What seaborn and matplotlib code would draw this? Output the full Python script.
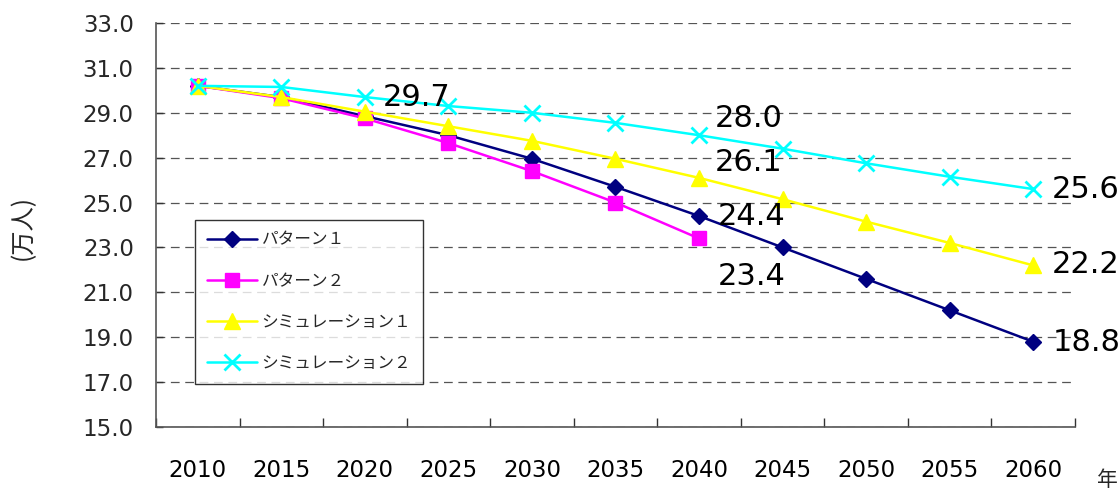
import numpy as np
import pandas as pd
import matplotlib
matplotlib.use("Agg")
import matplotlib.pyplot as plt
import seaborn as sns
from matplotlib.ticker import FixedLocator, FormatStrFormatter

# ---- data ----
years = [2010, 2015, 2020, 2025, 2030, 2035, 2040, 2045, 2050, 2055, 2060]
pattern1 = [30.2, 29.7, 28.85, 28.0, 26.95, 25.7, 24.4, 23.0, 21.6, 20.2, 18.8]
pattern2 = [30.2, 29.65, 28.75, 27.65, 26.4, 25.0, 23.4, np.nan, np.nan, np.nan, np.nan]
simulation1 = [30.2, 29.7, 29.05, 28.4, 27.75, 26.95, 26.1, 25.15, 24.15, 23.2, 22.2]
simulation2 = [30.2, 30.15, 29.7, 29.3, 29.0, 28.55, 28.0, 27.4, 26.75, 26.15, 25.6]
series_names = ["パターン１", "パターン２", "シミュレーション１", "シミュレーション２"]
y_ticks = [15.0, 17.0, 19.0, 21.0, 23.0, 25.0, 27.0, 29.0, 31.0, 33.0]
y_label = "(万人)"
x_unit = "年"

sns.set_theme(style="white")
plt.rcParams["font.family"] = ["DejaVu Sans", "Noto Sans CJK JP"]

fig = plt.figure(figsize=(11.19, 4.93), dpi=100)
ax = fig.add_axes([156 / 1119, 1 - 427 / 493, (1075 - 156) / 1119, (427 - 23) / 493])

styles = [
    dict(color="#000080", marker="D", markersize=8.5, mew=1),
    dict(color="#FF00FF", marker="s", markersize=10.5, mew=1),
    dict(color="#FFFF00", marker="^", markersize=11, mew=1),
    dict(color="#00FFFF", marker="x", markersize=12, mew=2.0),
]
all_vals = [pattern1, pattern2, simulation1, simulation2]
for name, vals, st in zip(series_names, all_vals, styles):
    df = pd.DataFrame({"year": years, "value": vals}).dropna()
    sns.lineplot(data=df, x="year", y="value", ax=ax, label=name,
                 color=st["color"], marker=st["marker"], markersize=st["markersize"],
                 markeredgecolor=st["color"], markerfacecolor=st["color"],
                 markeredgewidth=st["mew"], linewidth=1.8)

ax.set_xlim(years[0] - 2.5, years[-1] + 2.5)
ax.set_ylim(y_ticks[0], y_ticks[-1])
ax.yaxis.set_major_locator(FixedLocator(y_ticks))
ax.yaxis.set_major_formatter(FormatStrFormatter("%.1f"))
ax.set_xticks(years)
ax.set_xticklabels([str(y) for y in years])
ax.xaxis.set_minor_locator(FixedLocator([y - 2.5 for y in years] + [years[-1] + 2.5]))
ax.tick_params(axis="x", which="major", length=0, pad=23, labelsize=16.5, colors="#000000")
ax.tick_params(axis="x", which="minor", direction="in", length=6.5, width=1, color="#333333", bottom=True)
ax.tick_params(axis="y", direction="in", length=5, width=1, pad=16, labelsize=16.5, left=True, color="#333333")
ax.set_xlabel("")
ax.set_ylabel("")
for s in ["top", "right"]:
    ax.spines[s].set_visible(False)
for s in ["left", "bottom"]:
    ax.spines[s].set_color("#555555")
    ax.spines[s].set_linewidth(1.2)
ax.yaxis.grid(True, linestyle=(0, (7, 4.5)), color="#555555", linewidth=0.9)
ax.xaxis.grid(False)
ax.set_axisbelow(True)

# annotations
annots = [
    (simulation2, 2, 18, 0),
    (simulation2, 6, 16, 17),
    (simulation1, 6, 16, 15),
    (pattern1, 6, 19, 0),
    (pattern2, 6, 19, -38),
    (simulation2, 10, 19, 0),
    (simulation1, 10, 19, 1),
    (pattern1, 10, 19, -1),
]
for vals, i, dx, dy in annots:
    ax.annotate(f"{vals[i]:.1f}", xy=(years[i], vals[i]), xytext=(dx, dy),
                textcoords="offset pixels", ha="left", va="center",
                fontsize=22, color="#000000", family="DejaVu Sans")

leg = ax.legend(loc="upper left", bbox_to_anchor=((195 - 156) / 919, (427 - 220) / 404),
                borderaxespad=0, frameon=True, fancybox=False, edgecolor="#000000",
                prop={"family": ["Noto Sans CJK JP"], "size": 12}, handlelength=3.0,
                labelspacing=1.45, handletextpad=0.3, borderpad=0.7)
leg.get_frame().set_linewidth(1.0)

fig.text(23 / 1119, 1 - 228 / 493, y_label, rotation=90, ha="center", va="center",
         fontsize=17.5, family=["Noto Sans CJK JP"])
fig.text(1097 / 1119, 1 - 480 / 493, x_unit, ha="left", va="center",
         fontsize=15, family=["Noto Sans CJK JP"])

fig.savefig("out.png", dpi=100)
